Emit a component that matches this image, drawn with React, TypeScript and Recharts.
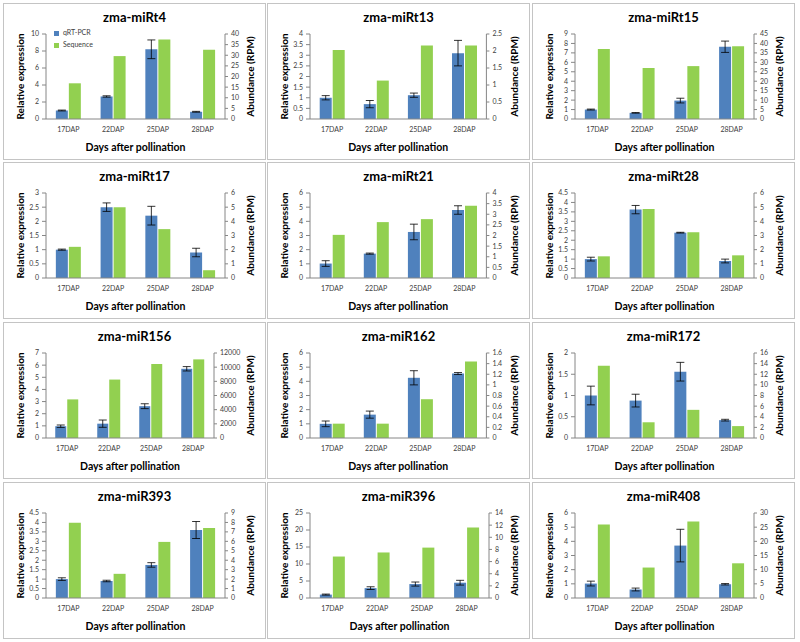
import React from 'react';
import { BarChart, Bar, XAxis, YAxis, ErrorBar, Legend } from 'recharts';

const days = ['17DAP', '22DAP', '25DAP', '28DAP'];

// qRT-PCR relative expression (+ error) and sequencing abundance (RPM) per miRNA
const miRt4Qpcr = [1.0, 2.65, 8.2, 0.85];
const miRt4Err = [0.05, 0.08, 1.1, 0.05];
const miRt4Seq = [16.8, 29.6, 37.4, 32.6];
const miRt4Left = [0, 2, 4, 6, 8, 10];
const miRt4Right = [0, 5, 10, 15, 20, 25, 30, 35, 40];

const miRt13Qpcr = [1.0, 0.7, 1.12, 3.1];
const miRt13Err = [0.1, 0.17, 0.1, 0.6];
const miRt13Seq = [2.03, 1.13, 2.16, 2.16];
const miRt13Left = [0, 0.5, 1, 1.5, 2, 2.5, 3, 3.5, 4];
const miRt13Right = [0, 0.5, 1, 1.5, 2, 2.5];

const miRt15Qpcr = [1.0, 0.65, 1.95, 7.65];
const miRt15Err = [0.05, 0.03, 0.25, 0.6];
const miRt15Seq = [37, 27, 28, 38.5];
const miRt15Left = [0, 1, 2, 3, 4, 5, 6, 7, 8, 9];
const miRt15Right = [0, 5, 10, 15, 20, 25, 30, 35, 40, 45];

const miRt17Qpcr = [1.0, 2.5, 2.2, 0.9];
const miRt17Err = [0.02, 0.15, 0.33, 0.15];
const miRt17Seq = [2.2, 5.0, 3.45, 0.55];
const miRt17Left = [0, 0.5, 1, 1.5, 2, 2.5, 3];
const miRt17Right = [0, 1, 2, 3, 4, 5, 6];

const miRt21Qpcr = [1.02, 1.72, 3.25, 4.8];
const miRt21Err = [0.2, 0.04, 0.55, 0.3];
const miRt21Seq = [2.03, 2.63, 2.77, 3.4];
const miRt21Left = [0, 1, 2, 3, 4, 5, 6];
const miRt21Right = [0, 0.5, 1, 1.5, 2, 2.5, 3, 3.5, 4];

const miRt28Qpcr = [1.0, 3.62, 2.4, 0.9];
const miRt28Err = [0.1, 0.22, 0.02, 0.1];
const miRt28Seq = [1.53, 4.87, 3.23, 1.6];
const miRt28Left = [0, 0.5, 1, 1.5, 2, 2.5, 3, 3.5, 4, 4.5];
const miRt28Right = [0, 1, 2, 3, 4, 5, 6];

const miR156Qpcr = [0.97, 1.18, 2.62, 5.7];
const miR156Err = [0.1, 0.3, 0.2, 0.18];
const miR156Seq = [5450, 8250, 10450, 11100];
const miR156Left = [0, 1, 2, 3, 4, 5, 6, 7];
const miR156Right = [0, 2000, 4000, 6000, 8000, 10000, 12000];

const miR162Qpcr = [1.0, 1.65, 4.25, 4.55];
const miR162Err = [0.2, 0.25, 0.5, 0.07];
const miR162Seq = [0.27, 0.27, 0.73, 1.44];
const miR162Left = [0, 1, 2, 3, 4, 5, 6];
const miR162Right = [0, 0.2, 0.4, 0.6, 0.8, 1, 1.2, 1.4, 1.6];

const miR172Qpcr = [1.0, 0.88, 1.56, 0.42];
const miR172Err = [0.22, 0.15, 0.22, 0.02];
const miR172Seq = [13.6, 2.96, 5.3, 2.24];
const miR172Left = [0, 0.5, 1, 1.5, 2];
const miR172Right = [0, 2, 4, 6, 8, 10, 12, 14, 16];

const miR393Qpcr = [1.0, 0.9, 1.75, 3.6];
const miR393Err = [0.07, 0.04, 0.12, 0.45];
const miR393Seq = [7.96, 2.56, 5.94, 7.4];
const miR393Left = [0, 0.5, 1, 1.5, 2, 2.5, 3, 3.5, 4, 4.5];
const miR393Right = [0, 1, 2, 3, 4, 5, 6, 7, 8, 9];

const miR396Qpcr = [1.0, 2.9, 4.1, 4.5];
const miR396Err = [0.15, 0.4, 0.6, 0.7];
const miR396Seq = [6.83, 7.5, 8.3, 11.6];
const miR396Left = [0, 5, 10, 15, 20, 25];
const miR396Right = [0, 2, 4, 6, 8, 10, 12, 14];

const miR408Qpcr = [1.02, 0.6, 3.7, 0.97];
const miR408Err = [0.17, 0.1, 1.15, 0.05];
const miR408Seq = [25.9, 10.75, 27, 12.25];
const miR408Left = [0, 1, 2, 3, 4, 5, 6];
const miR408Right = [0, 5, 10, 15, 20, 25, 30];

const panels = [
  { title: 'zma-miRt4', qpcr: miRt4Qpcr, err: miRt4Err, seq: miRt4Seq, left: miRt4Left, right: miRt4Right },
  { title: 'zma-miRt13', qpcr: miRt13Qpcr, err: miRt13Err, seq: miRt13Seq, left: miRt13Left, right: miRt13Right },
  { title: 'zma-miRt15', qpcr: miRt15Qpcr, err: miRt15Err, seq: miRt15Seq, left: miRt15Left, right: miRt15Right },
  { title: 'zma-miRt17', qpcr: miRt17Qpcr, err: miRt17Err, seq: miRt17Seq, left: miRt17Left, right: miRt17Right },
  { title: 'zma-miRt21', qpcr: miRt21Qpcr, err: miRt21Err, seq: miRt21Seq, left: miRt21Left, right: miRt21Right },
  { title: 'zma-miRt28', qpcr: miRt28Qpcr, err: miRt28Err, seq: miRt28Seq, left: miRt28Left, right: miRt28Right },
  { title: 'zma-miR156', qpcr: miR156Qpcr, err: miR156Err, seq: miR156Seq, left: miR156Left, right: miR156Right },
  { title: 'zma-miR162', qpcr: miR162Qpcr, err: miR162Err, seq: miR162Seq, left: miR162Left, right: miR162Right },
  { title: 'zma-miR172', qpcr: miR172Qpcr, err: miR172Err, seq: miR172Seq, left: miR172Left, right: miR172Right },
  { title: 'zma-miR393', qpcr: miR393Qpcr, err: miR393Err, seq: miR393Seq, left: miR393Left, right: miR393Right },
  { title: 'zma-miR396', qpcr: miR396Qpcr, err: miR396Err, seq: miR396Seq, left: miR396Left, right: miR396Right },
  { title: 'zma-miR408', qpcr: miR408Qpcr, err: miR408Err, seq: miR408Seq, left: miR408Left, right: miR408Right },
];

const FONT = 'Lato, "Open Sans", sans-serif';
const BLUE = '#4F81BD';
const GREEN = '#92D050';
const AXIS = '#868686';

const colLefts = [3, 267, 532];
const rowTops = [3, 162, 322, 482];
const PW = 263;
const PH = 157;

type PanelDef = (typeof panels)[number];

const Panel = ({ p, x, y, legend }: { p: PanelDef; x: number; y: number; legend: boolean }) => {
  const data = days.map((d, i) => ({ day: d, qpcr: p.qpcr[i], err: p.err[i], seq: p.seq[i] }));
  const tick = { fontSize: 7, fill: '#404040', fontFamily: FONT };
  // widen the right axis when its labels are long (e.g. 12000)
  const rightChars = Math.max(...p.right.map((v) => String(v).length));
  const rightWidth = Math.max(40, 30 + 4.2 * rightChars);
  return (
    <div
      style={{
        position: 'absolute',
        left: x,
        top: y,
        width: PW,
        height: PH,
        border: '1px solid #c4c4c4',
        boxSizing: 'border-box',
        background: '#fff',
      }}
    >
      <div
        style={{
          position: 'absolute',
          left: 0,
          top: 5,
          width: '100%',
          textAlign: 'center',
          fontFamily: FONT,
          fontWeight: 'bold',
          fontSize: 13,
          lineHeight: '16px',
          color: '#000',
        }}
      >
        {p.title}
      </div>
      <BarChart
        width={PW - 2}
        height={PH - 2}
        data={data}
        margin={{ top: 30, right: 0, bottom: 0, left: 0 }}
        barCategoryGap="22%"
        barGap={1}
      >
        <XAxis
          dataKey="day"
          height={40}
          tick={tick}
          tickLine={false}
          stroke={AXIS}
          label={{
            value: 'Days after pollination',
            position: 'insideBottom',
            offset: 8,
            style: { fontSize: 10.5, fontWeight: 'bold', fill: '#000', fontFamily: FONT },
          }}
        />
        <YAxis
          yAxisId="left"
          width={42}
          domain={[0, p.left[p.left.length - 1]]}
          ticks={p.left}
          interval={0}
          tick={tick}
          tickSize={4}
          tickMargin={3}
          stroke={AXIS}
          label={{
            value: 'Relative expression',
            angle: -90,
            position: 'insideLeft',
            offset: 16,
            style: { textAnchor: 'middle', fontSize: 10, fontWeight: 'bold', fill: '#000', fontFamily: FONT },
          }}
        />
        <YAxis
          yAxisId="right"
          orientation="right"
          width={rightWidth}
          domain={[0, p.right[p.right.length - 1]]}
          ticks={p.right}
          interval={0}
          tick={tick}
          tickSize={3}
          tickMargin={3}
          stroke={AXIS}
          label={{
            value: 'Abundance (RPM)',
            angle: -90,
            position: 'insideRight',
            offset: 15,
            style: { textAnchor: 'middle', fontSize: 10, fontWeight: 'bold', fill: '#000', fontFamily: FONT },
          }}
        />
        {legend && (
          <Legend
            layout="vertical"
            align="center"
            verticalAlign="middle"
            iconType="square"
            iconSize={5}
            itemSorter="dataKey"
            wrapperStyle={{ left: 50, top: 22, width: 60, fontSize: 7, lineHeight: '12px', fontFamily: FONT }}
            formatter={(v: string) => <span style={{ color: '#404040' }}>{v}</span>}
          />
        )}
        <Bar yAxisId="left" dataKey="qpcr" name="qRT-PCR" fill={BLUE} isAnimationActive={false}>
          <ErrorBar dataKey="err" width={4} stroke="#000" strokeWidth={0.8} />
        </Bar>
        <Bar yAxisId="right" dataKey="seq" name="Sequence" fill={GREEN} isAnimationActive={false} />
      </BarChart>
    </div>
  );
};

export default function App() {
  return (
    <div style={{ position: 'absolute', left: 0, top: 0, width: 800, height: 642, background: '#fff' }}>
      {panels.map((p, i) => (
        <Panel
          key={p.title}
          p={p}
          x={colLefts[i % 3]}
          y={rowTops[Math.floor(i / 3)]}
          legend={i === 0}
        />
      ))}
    </div>
  );
}
